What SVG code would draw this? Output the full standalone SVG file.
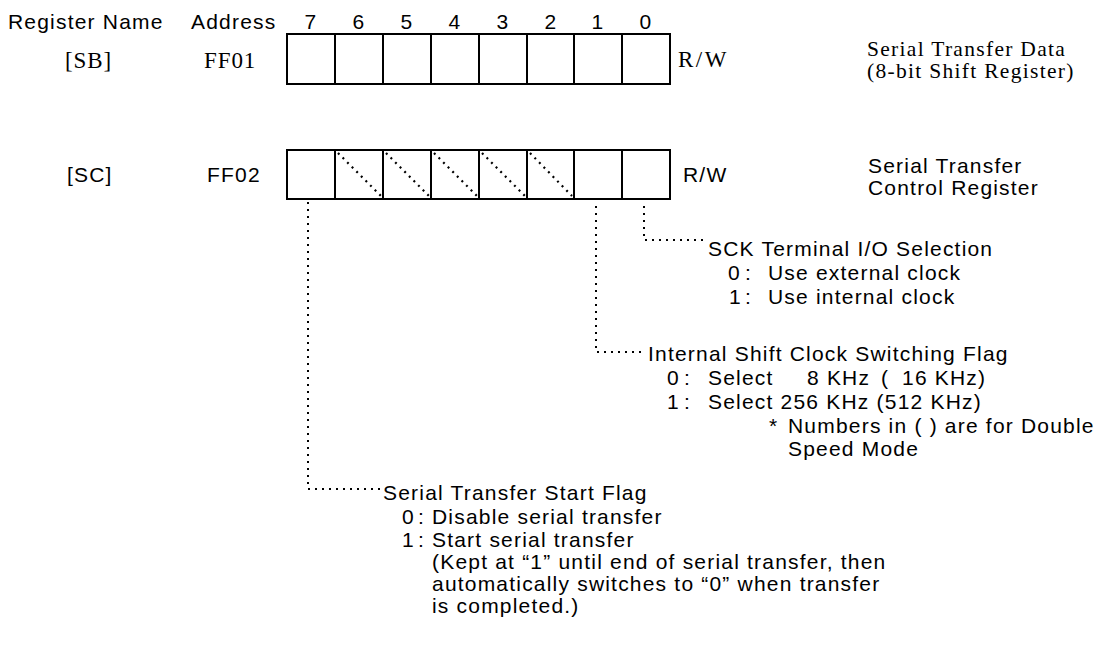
<svg xmlns="http://www.w3.org/2000/svg" width="1109" height="654" viewBox="0 0 1109 654">
<style>
.s{font-family:"Liberation Sans",Arial,sans-serif;font-size:21px;letter-spacing:1.2px;fill:#000}
.r{font-family:"Liberation Serif","Times New Roman",serif;font-size:23px;letter-spacing:0.9px;fill:#000}
.rd{font-family:"Liberation Serif","Times New Roman",serif;font-size:21.5px;letter-spacing:1.3px;fill:#000}
.c{text-anchor:middle}
.box{fill:#fff;stroke:#000;stroke-width:2}
.div{stroke:#000;stroke-width:2}
.hatch{stroke:#000;stroke-width:2.2;stroke-dasharray:2 4.5;fill:none}
.dot{stroke:#000;stroke-width:2;stroke-dasharray:2 5;fill:none}
</style>
<rect width="1109" height="654" fill="#fff"/>
<g id="header">
<text class="s" x="8" y="29">Register Name</text>
<text class="s" x="191" y="29">Address</text>
<text class="s c" x="311" y="29">7</text>
<text class="s c" x="359" y="29">6</text>
<text class="s c" x="407" y="29">5</text>
<text class="s c" x="455" y="29">4</text>
<text class="s c" x="503" y="29">3</text>
<text class="s c" x="551" y="29">2</text>
<text class="s c" x="598" y="29">1</text>
<text class="s c" x="646" y="29">0</text>
</g>
<g id="reg-sb">
<text class="r" x="65" y="68">[SB]</text>
<text class="r" x="204" y="68">FF01</text>
<rect class="box" x="287" y="34" width="383" height="50"/>
<path class="div" d="M335 34V84M383 34V84M431 34V84M479 34V84M527 34V84M574 34V84M622 34V84"/>
<text class="r" x="678" y="67" style="letter-spacing:2.5px">R/W</text>
<text class="rd" x="867" y="56">Serial Transfer Data</text>
<text class="rd" x="867" y="78">(8-bit Shift Register)</text>
</g>
<g id="reg-sc">
<text class="s" x="67" y="182">[SC]</text>
<text class="s" x="207" y="182">FF02</text>
<rect class="box" x="287" y="150" width="383" height="49"/>
<path class="div" d="M335 150V199M383 150V199M431 150V199M479 150V199M527 150V199M574 150V199M622 150V199"/>
<path class="hatch" d="M338 153L381 196M386 153L429 196M434 153L477 196M482 153L525 196M530 153L572 196"/>
<text class="s" x="683" y="182">R/W</text>
<text class="s" x="868" y="173">Serial Transfer</text>
<text class="s" x="868" y="195">Control Register</text>
</g>
<g id="connectors">
<path class="dot" d="M308 202V489H380"/>
<path class="dot" d="M596 206V352H642"/>
<path class="dot" d="M644 206V240H705"/>
</g>
<g id="desc-sck">
<text class="s" x="708" y="256">SCK Terminal I/O Selection</text>
<text class="s" y="280"><tspan x="728">0</tspan><tspan x="745">:</tspan></text>
<text class="s" x="768" y="280">Use external clock</text>
<text class="s" y="304"><tspan x="729">1</tspan><tspan x="745">:</tspan></text>
<text class="s" x="768" y="304">Use internal clock</text>
</g>
<g id="desc-clock">
<text class="s" x="648" y="361">Internal Shift Clock Switching Flag</text>
<text class="s" y="385"><tspan x="667">0</tspan><tspan x="684">:</tspan></text>
<text class="s" x="708" y="385">Select</text>
<text class="s" x="807" y="385">8 KHz</text>
<text class="s" x="881" y="385">(</text>
<text class="s" x="902" y="385">16 KHz)</text>
<text class="s" y="409"><tspan x="667">1</tspan><tspan x="684">:</tspan></text>
<text class="s" x="708" y="409">Select 256 KHz (512 KHz)</text>
<text class="s" x="769" y="433">*</text>
<text class="s" x="788" y="433">Numbers in ( ) are for Double</text>
<text class="s" x="788" y="456">Speed Mode</text>
</g>
<g id="desc-start">
<text class="s" x="383" y="500">Serial Transfer Start Flag</text>
<text class="s" y="524"><tspan x="402">0</tspan><tspan x="418">:</tspan></text>
<text class="s" x="432" y="524">Disable serial transfer</text>
<text class="s" y="547"><tspan x="402">1</tspan><tspan x="418">:</tspan></text>
<text class="s" x="432" y="547">Start serial transfer</text>
<text class="s" x="432" y="569">(Kept at “1” until end of serial transfer, then</text>
<text class="s" x="432" y="591">automatically switches to “0” when transfer</text>
<text class="s" x="432" y="613">is completed.)</text>
</g>
</svg>
